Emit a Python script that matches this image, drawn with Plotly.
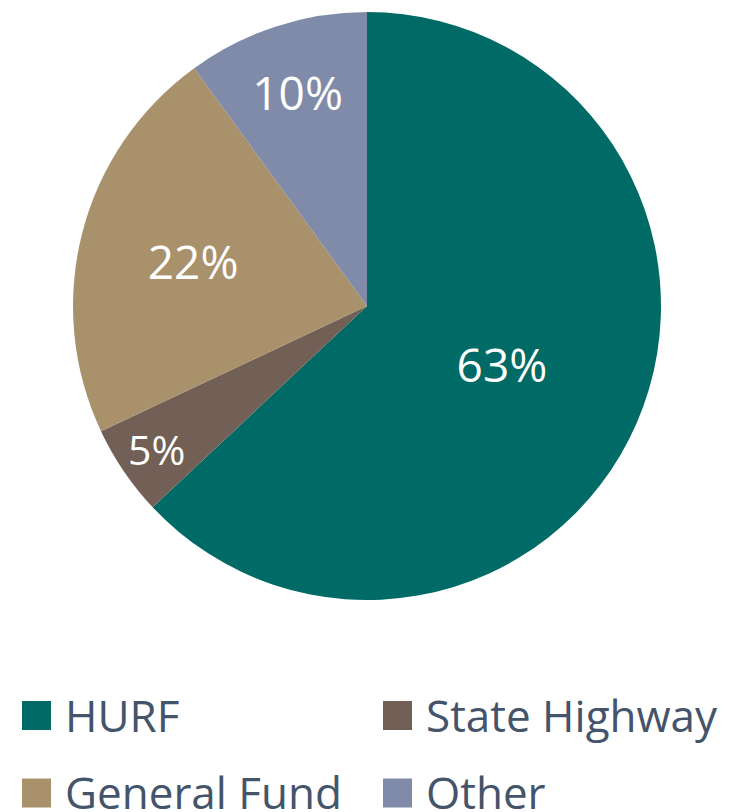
import plotly.graph_objects as go

categories = ["HURF", "State Highway", "General Fund", "Other"]
values = [63, 5, 22, 10]
colors = ["#006A66", "#725F55", "#A9916C", "#7F8BA8"]

W, H = 734, 812
OFF = 8  # page body margin offset
FONT = "Open Sans"

cx0, cy0, R = 367 - OFF, 306 - OFF, 294

fig = go.Figure(go.Pie(
    labels=categories,
    values=values,
    sort=False,
    direction="clockwise",
    rotation=0,
    marker=dict(colors=colors, line=dict(width=0)),
    textinfo="percent",
    textposition="inside",
    insidetextorientation="horizontal",
    textfont=dict(color="white", size=46, family=FONT),
    showlegend=False,
    hoverinfo="label+percent",
    domain=dict(x=[(cx0 - R) / W, (cx0 + R) / W], y=[1 - (cy0 + R) / H, 1 - (cy0 - R) / H]),
))

# custom legend: 2 columns x 2 rows
col_x = [22 - OFF, 383 - OFF]
row_y = [715.5 - OFF, 793 - OFF]
sw = 29
shapes, annotations = [], []
for i, (cat, col) in enumerate(zip(categories, colors)):
    x = col_x[i % 2]
    y = row_y[i // 2]
    shapes.append(dict(type="rect", xref="paper", yref="paper",
                       x0=x / W, x1=(x + sw) / W,
                       y0=1 - (y + sw / 2) / H, y1=1 - (y - sw / 2) / H,
                       fillcolor=col, line=dict(width=0)))
    annotations.append(dict(xref="paper", yref="paper", x=(x + sw + 12) / W, y=1 - (y - 1) / H,
                            xanchor="left", yanchor="middle", showarrow=False,
                            text=cat, font=dict(size=44, color="#44546A", family=FONT)))

fig.update_layout(
    width=W, height=H,
    margin=dict(l=0, r=0, t=0, b=0),
    paper_bgcolor="white", plot_bgcolor="white",
    shapes=shapes, annotations=annotations,
)

fig.write_html("out.html")
